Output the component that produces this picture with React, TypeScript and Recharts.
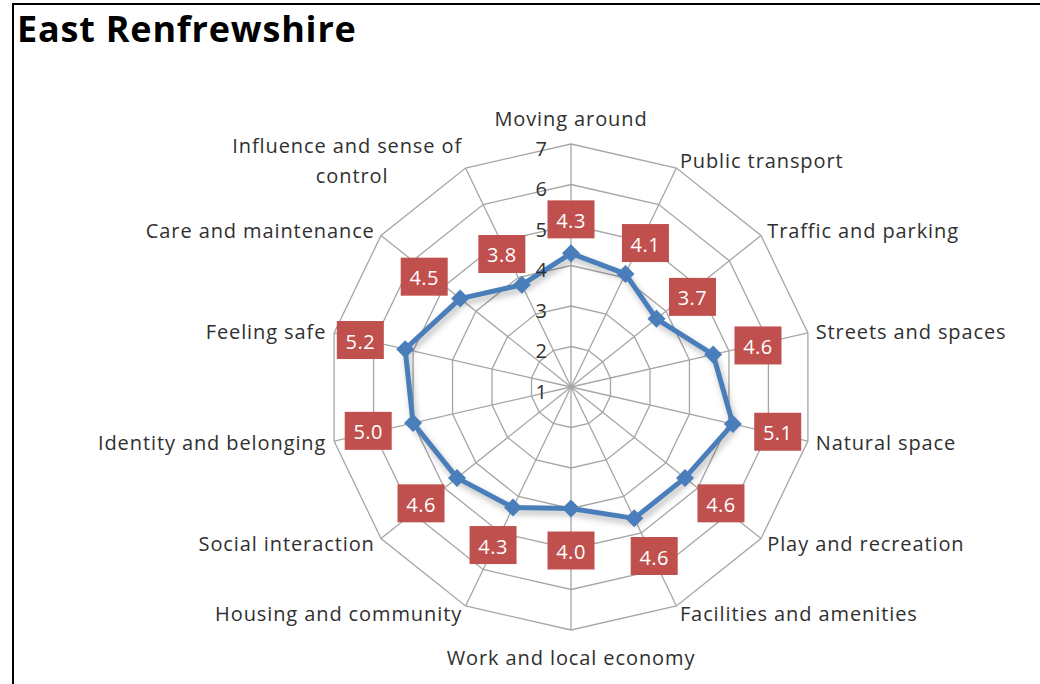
import { RadarChart, PolarGrid, PolarAngleAxis, PolarRadiusAxis, Radar } from 'recharts';

const categories = [
    'Moving around',
    'Public transport',
    'Traffic and parking',
    'Streets and spaces',
    'Natural space',
    'Play and recreation',
    'Facilities and amenities',
    'Work and local economy',
    'Housing and community',
    'Social interaction',
    'Identity and belonging',
    'Feeling safe',
    'Care and maintenance',
    'Influence and sense of control',
];

const scores = [4.3, 4.1, 3.7, 4.6, 5.1, 4.6, 4.6, 4.0, 4.3, 4.6, 5.0, 5.2, 4.5, 3.8];

const radiusTicks = [1, 2, 3, 4, 5, 6, 7];

const FONT = '"Open Sans", "Noto Sans", sans-serif';
const LINE = '#4a7ebb';
const LABEL_BG = '#c0504d';
const TEXT = '#303030';
const CX = 571;
const CY = 387;

const data = categories.map((name, i) => ({ name, value: scores[i] }));

// 긴 라벨은 두 줄로 (둘째 줄은 첫 줄 아래 가운데)
const wrapLabel = (s: string) =>
    s === 'Influence and sense of control' ? ['Influence and sense of', 'control'] : [s];

function AngleTick(props: any) {
    const { x, y, payload, textAnchor } = props;
    const lines = wrapLabel(payload.value);
    let dy = 0;
    if (textAnchor === 'middle') dy = y < CY ? -18 : 19;
    if (lines.length > 1) {
        return (
            <g>
                <text x={x} y={y - 15} textAnchor="end" fontSize={20} letterSpacing={0.9} fill={TEXT} fontFamily={FONT} dominantBaseline="central">
                    {lines[0]}
                </text>
                <text x={x - 110} y={y + 15} textAnchor="middle" fontSize={20} letterSpacing={0.9} fill={TEXT} fontFamily={FONT} dominantBaseline="central">
                    {lines[1]}
                </text>
            </g>
        );
    }
    return (
        <text x={x} y={y + dy} textAnchor={textAnchor} fontSize={20} letterSpacing={0.9} fill={TEXT} fontFamily={FONT} dominantBaseline="central">
            {lines[0]}
        </text>
    );
}

function RadiusTick(props: any) {
    const { x, y, payload } = props;
    return (
        <text x={x - 24} y={y + 4} textAnchor="end" fontSize={20} fill={TEXT} fontFamily={FONT} dominantBaseline="central">
            {payload.value}
        </text>
    );
}

// 다이아몬드 마커 + 빨간 값 라벨
function PointMark(props: any) {
    const { cx, cy, index, value, payload } = props;
    if (cx == null || cy == null) return <g key={index} />;
    const v = typeof value === 'number' ? value : payload?.value;
    const dx = cx - CX;
    const dy = cy - CY;
    const len = Math.sqrt(dx * dx + dy * dy) || 1;
    const ux = dx / len;
    const uy = dy / len;
    const lx = cx + ux * 46;
    const ly = cy + uy * (uy < 0 ? 32 : 44) - 2;
    const s = 9;
    return (
        <g key={index}>
            <path d={`M${cx},${cy - s} L${cx + s},${cy} L${cx},${cy + s} L${cx - s},${cy} Z`} fill={LINE} />
            <rect x={lx - 23.5} y={ly - 19} width={47} height={38} fill={LABEL_BG} />
            <text x={lx} y={ly + 1} textAnchor="middle" dominantBaseline="central" fontSize={20} letterSpacing={0.5} fill="#ffffff" fontFamily={FONT}>
                {Number(v).toFixed(1)}
            </text>
        </g>
    );
}

export default function App() {
    return (
        <div
            style={{
                position: 'absolute',
                left: 0,
                top: 0,
                width: 1040,
                height: 684,
                background: '#fff',
                overflow: 'hidden',
            }}
        >
            <style>{`.recharts-radar-polygon .recharts-polygon { filter: drop-shadow(2px 4px 3px rgba(0,0,0,0.28)); }`}</style>
            <div
                style={{
                    position: 'absolute',
                    left: 12,
                    top: 3,
                    width: 1040,
                    height: 700,
                    borderLeft: '2px solid #000',
                    borderTop: '2px solid #000',
                }}
            />
            <div
                style={{
                    position: 'absolute',
                    left: 17,
                    top: 4,
                    fontFamily: FONT,
                    fontWeight: 700,
                    fontSize: 36,
                    letterSpacing: 0.8,
                    color: '#000',
                    lineHeight: '50px',
                }}
            >
                East Renfrewshire
            </div>
            <div style={{ position: 'absolute', left: 0, top: 0 }}>
                <RadarChart width={1040} height={684} data={data} cx={CX} cy={CY} outerRadius={243} margin={{ top: 0, right: 0, bottom: 0, left: 0 }}>
                    <PolarGrid gridType="polygon" stroke="#a6a6a6" strokeWidth={1.3} />
                    <PolarAngleAxis dataKey="name" tick={<AngleTick />} tickLine={false} axisLine={false} />
                    <PolarRadiusAxis
                        angle={90}
                        domain={[1, 7]}
                        ticks={radiusTicks}
                        tickCount={7}
                        axisLine={false}
                        tickLine={false}
                        tick={<RadiusTick />}
                    />
                    <Radar
                        dataKey="value"
                        stroke={LINE}
                        strokeWidth={5}
                        strokeLinejoin="round"
                        fill="none"
                        fillOpacity={0}
                        dot={PointMark}
                        isAnimationActive={false}
                    />
                </RadarChart>
            </div>
        </div>
    );
}
